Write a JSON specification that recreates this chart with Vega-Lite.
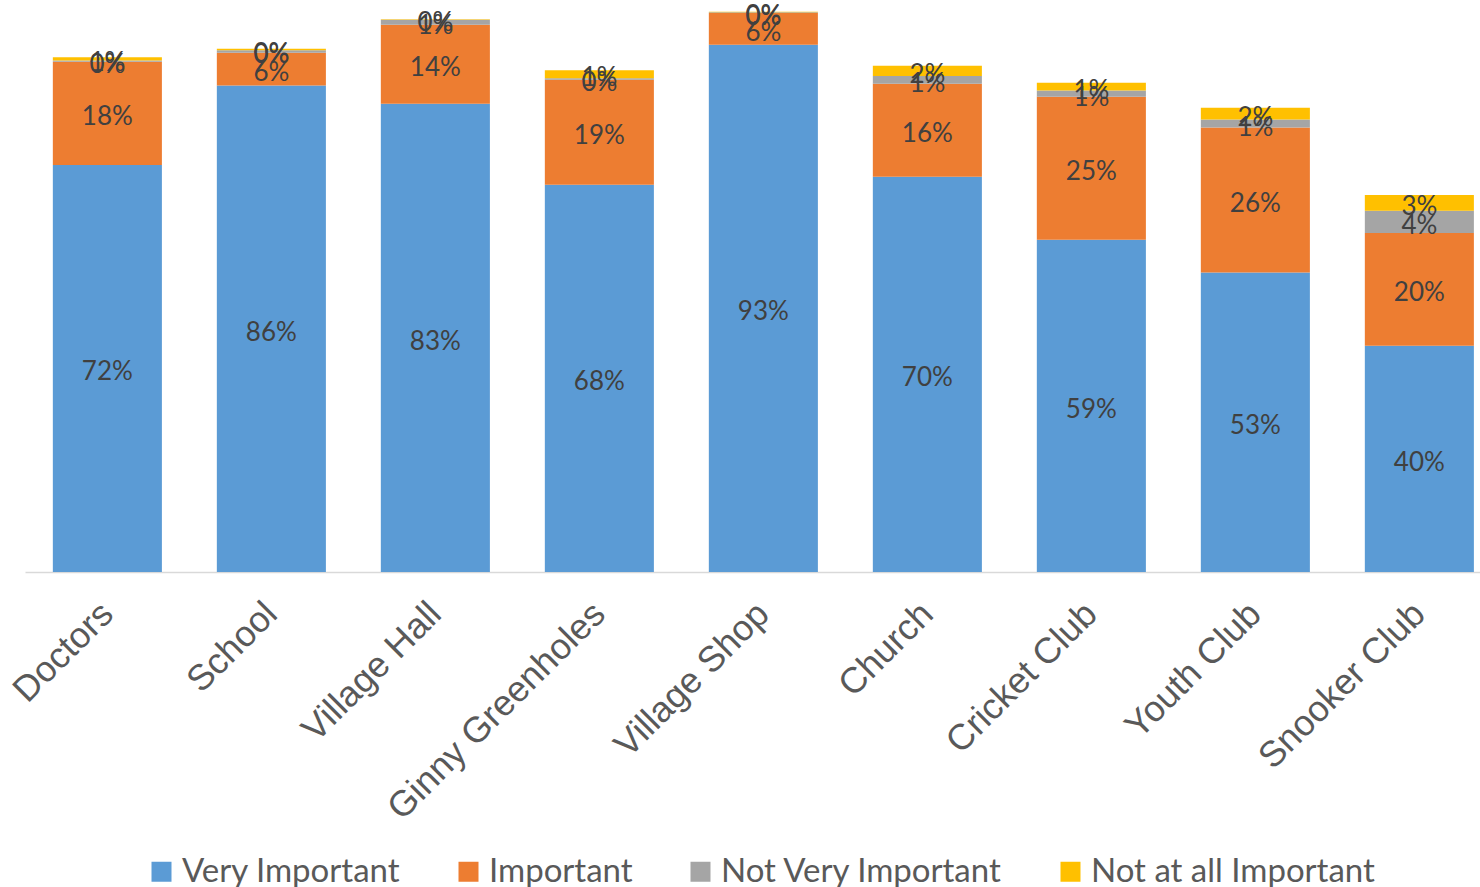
{
  "$schema": "https://vega.github.io/schema/vega-lite/v6.json",
  "autosize": "none",
  "width": 1455,
  "height": 567,
  "padding": {"left": 25, "top": 5, "right": 0, "bottom": 315},
  "background": "white",
  "config": {"view": {"stroke": null}},
  "data": {"values": [
    {"place": "Doctors", "rating": "Very Important", "k": 1, "share": 0.718},
    {"place": "Doctors", "rating": "Important", "k": 2, "share": 0.182},
    {"place": "Doctors", "rating": "Not Very Important", "k": 3, "share": 0.002},
    {"place": "Doctors", "rating": "Not at all Important", "k": 4, "share": 0.006},
    {"place": "School", "rating": "Very Important", "k": 1, "share": 0.858},
    {"place": "School", "rating": "Important", "k": 2, "share": 0.058},
    {"place": "School", "rating": "Not Very Important", "k": 3, "share": 0.004},
    {"place": "School", "rating": "Not at all Important", "k": 4, "share": 0.003},
    {"place": "Village Hall", "rating": "Very Important", "k": 1, "share": 0.826},
    {"place": "Village Hall", "rating": "Important", "k": 2, "share": 0.139},
    {"place": "Village Hall", "rating": "Not Very Important", "k": 3, "share": 0.009},
    {"place": "Village Hall", "rating": "Not at all Important", "k": 4, "share": 0.001},
    {"place": "Ginny Greenholes", "rating": "Very Important", "k": 1, "share": 0.683},
    {"place": "Ginny Greenholes", "rating": "Important", "k": 2, "share": 0.185},
    {"place": "Ginny Greenholes", "rating": "Not Very Important", "k": 3, "share": 0.003},
    {"place": "Ginny Greenholes", "rating": "Not at all Important", "k": 4, "share": 0.014},
    {"place": "Village Shop", "rating": "Very Important", "k": 1, "share": 0.93},
    {"place": "Village Shop", "rating": "Important", "k": 2, "share": 0.056},
    {"place": "Village Shop", "rating": "Not Very Important", "k": 3, "share": 0.001},
    {"place": "Village Shop", "rating": "Not at all Important", "k": 4, "share": 0.001},
    {"place": "Church", "rating": "Very Important", "k": 1, "share": 0.697},
    {"place": "Church", "rating": "Important", "k": 2, "share": 0.164},
    {"place": "Church", "rating": "Not Very Important", "k": 3, "share": 0.014},
    {"place": "Church", "rating": "Not at all Important", "k": 4, "share": 0.018},
    {"place": "Cricket Club", "rating": "Very Important", "k": 1, "share": 0.586},
    {"place": "Cricket Club", "rating": "Important", "k": 2, "share": 0.252},
    {"place": "Cricket Club", "rating": "Not Very Important", "k": 3, "share": 0.011},
    {"place": "Cricket Club", "rating": "Not at all Important", "k": 4, "share": 0.014},
    {"place": "Youth Club", "rating": "Very Important", "k": 1, "share": 0.528},
    {"place": "Youth Club", "rating": "Important", "k": 2, "share": 0.256},
    {"place": "Youth Club", "rating": "Not Very Important", "k": 3, "share": 0.014},
    {"place": "Youth Club", "rating": "Not at all Important", "k": 4, "share": 0.021},
    {"place": "Snooker Club", "rating": "Very Important", "k": 1, "share": 0.399},
    {"place": "Snooker Club", "rating": "Important", "k": 2, "share": 0.199},
    {"place": "Snooker Club", "rating": "Not Very Important", "k": 3, "share": 0.039},
    {"place": "Snooker Club", "rating": "Not at all Important", "k": 4, "share": 0.028}
  ]},
  "transform": [
    {"stack": "share", "groupby": ["place"], "sort": [{"field": "k", "order": "ascending"}], "as": ["lo", "hi"]},
    {"calculate": "(datum.lo + datum.hi) / 2", "as": "mid"}
  ],
  "encoding": {
    "x": {
      "field": "place", "type": "nominal", "sort": null,
      "scale": {"paddingInner": 0.335, "paddingOuter": 0.1035, "align": 0.82},
      "axis": {
        "title": null, "labelAngle": -45, "labelAlign": "right", "labelBaseline": "middle",
        "labelFont": "Liberation Sans", "labelFontSize": 36, "labelColor": "#595959",
        "labelPadding": 36, "labelLimit": 600, "labelOverlap": false, "ticks": false,
        "domainColor": "#D9D9D9", "domainWidth": 1.5, "grid": false
      }
    }
  },
  "layer": [
    {
      "mark": {"type": "bar"},
      "encoding": {
        "y": {"field": "lo", "type": "quantitative", "scale": {"domain": [0, 1], "nice": false}, "axis": null},
        "y2": {"field": "hi"},
        "color": {
          "field": "rating", "type": "nominal",
          "scale": {
            "domain": ["Very Important", "Important", "Not Very Important", "Not at all Important"],
            "range": ["#5B9BD5", "#ED7D31", "#A5A5A5", "#FFC000"]
          },
          "legend": {
            "title": null, "orient": "none", "direction": "horizontal",
            "legendX": 120, "legendY": 850,
            "symbolType": "square", "symbolSize": 400, "symbolStrokeWidth": 0,
            "labelFont": "Lato", "labelFontSize": 33, "labelColor": "#595959",
            "labelOffset": 4, "columnPadding": 51, "labelLimit": 500
          }
        }
      }
    },
    {
      "mark": {"type": "text", "font": "Lato", "fontSize": 26, "color": "#404040", "baseline": "middle", "align": "center", "dy": 4},
      "encoding": {
        "y": {"field": "mid", "type": "quantitative"},
        "text": {"field": "share", "type": "quantitative", "format": ".0%"}
      }
    }
  ]
}
